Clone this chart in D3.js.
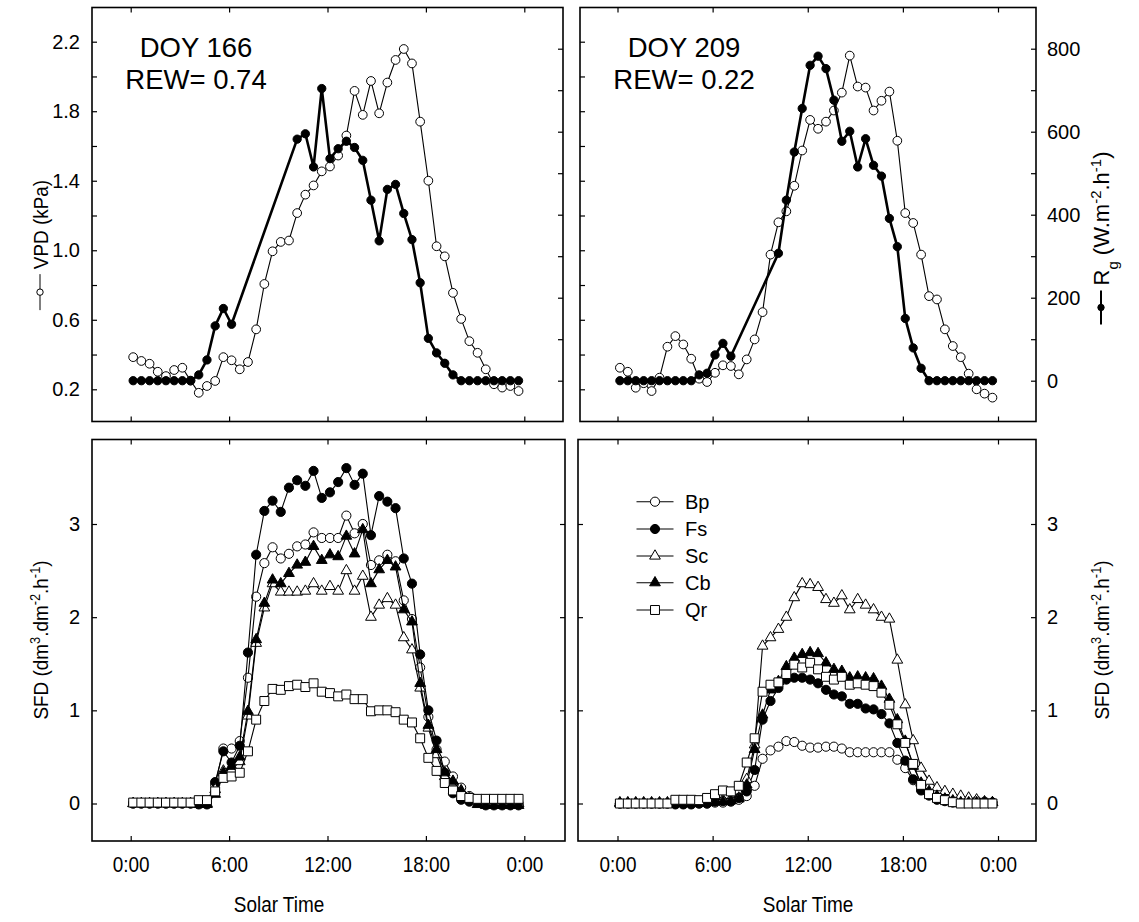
<!DOCTYPE html>
<html><head><meta charset="utf-8">
<script src="https://cdn.jsdelivr.net/npm/d3@7/dist/d3.min.js"></script>
<style>body{margin:0;background:#fff}</style>
</head><body>
<svg id="c" width="1139" height="922" xmlns="http://www.w3.org/2000/svg"></svg>
<script>
// ---------- data ----------
const times = [0.15,0.65,1.15,1.65,2.15,2.65,3.15,3.65,4.15,4.65,5.15,5.65,6.15,6.65,7.15,7.65,
  8.15,8.65,9.15,9.65,10.15,10.65,11.15,11.65,12.15,12.65,13.15,13.65,14.15,14.65,15.15,15.65,
  16.15,16.65,17.15,17.65,18.15,18.65,19.15,19.65,20.15,20.65,21.15,21.65,22.15,22.65,23.15,23.65];
const xTicks = [0, 6, 12, 18, 24];
const xTickLabels = ["0:00", "6:00", "12:00", "18:00", "0:00"];
const vpdTicks = [0.2,0.4,0.6,0.8,1.0,1.2,1.4,1.6,1.8,2.0,2.2];
const vpdLabelled = [0.2,0.6,1.0,1.4,1.8,2.2];
const rgTicks = [0,100,200,300,400,500,600,700,800];
const rgLabelled = [0,200,400,600,800];
const sfdTicks = [0,1,2,3];

const panelTitles = [["DOY 166", "REW= 0.74"], ["DOY 209", "REW= 0.22"]];

// DOY 166
const vpd166 = [0.385,0.363,0.347,0.301,0.276,0.311,0.324,0.25,0.18,0.219,0.248,0.385,0.367,0.315,0.357,0.545,
  0.806,0.994,1.048,1.056,1.214,1.32,1.373,1.454,1.482,1.545,1.66,1.917,1.779,1.974,1.788,1.965,
  2.095,2.158,2.075,1.74,1.40,1.023,0.965,0.755,0.605,0.477,0.41,0.315,0.229,0.21,0.219,0.19];
const rg166 = [0,0,0,0,0,0,0,0,14,50,132,174,136,null,null,null,null,null,null,null,582,595,515,704,
  535,559,577,562,531,435,337,461,473,403,340,236,102,67,42,14,0,0,0,0,0,0,0,0];
// DOY 209
const vpd209 = [0.324,0.301,0.209,0.235,0.19,0.267,0.445,0.506,0.458,0.376,0.261,0.242,0.295,0.338,0.334,0.286,
  0.372,0.487,0.644,0.975,1.161,1.224,1.371,1.574,1.75,1.699,1.74,1.804,1.907,2.12,1.942,1.936,
  1.804,1.86,1.913,1.63,1.214,1.157,0.975,0.736,0.717,0.545,0.449,0.385,0.29,0.2,0.175,0.152];
const rg209 = [0,0,0,0,0,0,0,0,0,0,14,18,62,90,59,null,null,null,null,null,307,435,551,656,
  760,782,752,676,577,601,515,583,519,493,391,323,150,79,30,0,0,0,0,0,0,0,0,0];

// SFD DOY 166
const bp166 = [0,0,0,0,0,0,0,0,0.01,0.02,0.2,0.59,0.59,0.67,1.35,2.22,2.58,2.75,2.63,2.68,2.76,2.78,2.91,2.85,
  2.85,2.85,3.09,2.9,3.0,2.56,2.61,2.67,2.6,2.18,1.98,1.46,0.93,0.58,0.45,0.29,0.17,0.08,0.04,0.02,0.01,0,0,0];
const fs166 = [0,0,0,0,0,0,0,0,-0.01,-0.01,0.23,0.56,0.44,0.62,1.62,2.67,3.14,3.25,3.13,3.39,3.47,3.41,3.57,3.28,
  3.34,3.45,3.6,3.42,3.54,2.88,3.3,3.24,3.17,2.63,2.36,1.6,1.0,0.675,0.33,0.11,0.04,0.02,0.01,-0.02,-0.02,-0.02,-0.02,-0.02];
const sc166 = [0,0,0,0,0,0,0,0,0,0,0.15,0.35,0.36,0.45,0.94,1.72,2.1,2.36,2.27,2.27,2.27,2.28,2.36,2.28,
  2.33,2.28,2.5,2.28,2.44,2.0,2.13,2.2,2.13,1.78,1.65,1.24,0.81,0.525,0.29,0.22,0.14,0.06,0.02,0,0,0,0,0];
const cb166 = [0,0,0,0,0,0,0,0,-0.01,-0.01,0.1,0.33,0.4,0.5,0.99,1.76,2.15,2.4,2.36,2.47,2.56,2.59,2.76,2.61,
  2.67,2.65,2.87,2.68,2.94,2.36,2.51,2.61,2.54,2.08,1.95,1.29,0.84,0.58,0.33,0.24,0.13,0.04,-0.01,-0.02,-0.02,-0.02,-0.02,-0.02];
const qr166 = [0.01,0.01,0.01,0.01,0.01,0.01,0.01,0.01,0.036,0.036,0.13,0.275,0.29,0.33,0.56,0.9,1.1,1.23,1.22,1.26,1.275,1.25,1.29,1.2,
  1.185,1.15,1.17,1.12,1.12,0.99,1.0,1.0,0.98,0.9,0.87,0.7,0.49,0.35,0.22,0.14,0.08,0.06,0.05,0.05,0.05,0.05,0.05,0.05];
// SFD DOY 209
const bp209 = [0,0,0,0,0,0,0,0,0,0,0,0,0.01,0.01,0.02,0.04,0.08,0.19,0.48,0.57,0.61,0.67,0.66,0.62,
  0.6,0.6,0.61,0.61,0.59,0.55,0.55,0.55,0.55,0.55,0.55,0.47,0.38,0.25,0.15,0.1,0.07,0.05,0.04,0.04,0.03,0.03,0.02,0.01];
const fs209 = [0,0,0,0,0,0,0,-0.01,-0.01,-0.01,0,0,0.02,0.025,0.025,0.06,0.13,0.36,0.9,1.1,1.24,1.33,1.35,1.35,
  1.33,1.29,1.22,1.17,1.15,1.07,1.07,1.02,1.01,0.96,0.86,0.65,0.46,0.26,0.14,0.085,0.04,0.025,0.01,0.01,0.01,0.01,0.01,0.01];
const sc209 = [0.01,0.01,0.01,0.01,0.01,0.01,0.01,0.01,0.01,0.01,0.01,0.02,0.03,0.04,0.05,0.06,0.26,0.63,1.69,1.78,1.87,2.0,2.21,2.36,
  2.35,2.32,2.19,2.15,2.23,2.08,2.19,2.13,2.08,2.0,1.98,1.54,1.06,0.675,0.38,0.24,0.17,0.13,0.1,0.08,0.06,0.04,0.02,0.01];
const cb209 = [0,0,0,0,0,0,0,0,0,0,0,0.01,0.02,0.02,0.03,0.05,0.2,0.58,0.95,1.22,1.31,1.47,1.56,1.6,
  1.62,1.61,1.51,1.44,1.42,1.35,1.36,1.35,1.34,1.26,1.12,0.9,0.67,0.4,0.22,0.13,0.08,0.05,0.03,0.01,0.01,0.01,0.01,0.01];
const qr209 = [0,0,0,0,0,0,0,0.04,0.04,0.04,0.036,0.06,0.1,0.14,0.13,0.19,0.44,0.7,1.2,1.275,1.3,1.39,1.49,1.46,
  1.51,1.44,1.36,1.33,1.36,1.275,1.29,1.275,1.26,1.19,1.06,0.85,0.65,0.425,0.2,0.1,0.06,0.036,0.014,0,0,0,0,0];

const species = ["Bp", "Fs", "Sc", "Cb", "Qr"];
const speciesStyle = {
  Bp: {type: d3.symbolCircle, size: 66, fill: "#fff"},
  Fs: {type: d3.symbolCircle, size: 66, fill: "#000"},
  Sc: {type: d3.symbolTriangle, size: 50, fill: "#fff"},
  Cb: {type: d3.symbolTriangle, size: 50, fill: "#000"},
  Qr: {type: d3.symbolSquare, size: 80, fill: "#fff"}
};
const sfd166 = {Bp: bp166, Fs: fs166, Sc: sc166, Cb: cb166, Qr: qr166};
const sfd209 = {Bp: bp209, Fs: fs209, Sc: sc209, Cb: cb209, Qr: qr209};

// ---------- layout ----------
const svg = d3.select("#c");
const FONT = "'Liberation Sans', Arial, sans-serif";

const panels = {
  TL: {x0: 92, x1: 563, y0: 7.5, y1: 421.5, tx: [130.7, 524.3]},
  TR: {x0: 580, x1: 1036, y0: 7.5, y1: 421.5, tx: [617.5, 998]},
  BL: {x0: 92, x1: 565, y0: 439.5, y1: 841, tx: [130.7, 524.3]},
  BR: {x0: 578, x1: 1036, y0: 439.5, y1: 841, tx: [617.5, 998]}
};
const yVPD = d3.scaleLinear().domain([0.2, 2.2]).range([389.3, 41.7]);
const yRg = d3.scaleLinear().domain([0, 800]).range([380.7, 48.7]);
const ySFD = d3.scaleLinear().domain([0, 3]).range([803.5, 524]);

function fmtVPD(d){ return vpdLabelled.some(v => Math.abs(v-d) < 1e-6) ? d.toFixed(1) : ""; }
function fmtRg(d){ return rgLabelled.includes(d) ? String(d) : ""; }

function styleAxis(g, size, narrow){
  g.select(".domain").remove();
  g.selectAll(".tick line").attr("stroke", "#000").attr("stroke-width", 1.2);
  const t = g.selectAll(".tick text").attr("fill", "#000").attr("font-family", FONT).attr("font-size", size);
  if (narrow) t.each(function(){
    const w = this.getComputedTextLength();
    if (w > 0) d3.select(this).attr("textLength", w * narrow).attr("lengthAdjust", "spacingAndGlyphs");
  });
}

function drawPanel(p, xs, opts){
  const g = svg.append("g");
  const gb = g.append("g").attr("transform", `translate(0,${p.y1})`)
    .call(d3.axisBottom(xs).tickValues(xTicks).tickSizeInner(-5).tickSizeOuter(0).tickPadding(15)
      .tickFormat((d,i) => opts.xLabels ? xTickLabels[i] : ""));
  styleAxis(gb, 22, 0.86);
  const gt = g.append("g").attr("transform", `translate(0,${p.y0})`)
    .call(d3.axisTop(xs).tickValues(xTicks).tickSizeInner(-5).tickSizeOuter(0).tickFormat(""));
  styleAxis(gt, 20);
  const gl = g.append("g").attr("transform", `translate(${p.x0},0)`)
    .call(d3.axisLeft(opts.yl).tickValues(opts.ylTicks).tickSizeInner(-5).tickSizeOuter(0).tickPadding(12)
      .tickFormat(opts.ylFmt));
  styleAxis(gl, 20);
  const gr = g.append("g").attr("transform", `translate(${p.x1},0)`)
    .call(d3.axisRight(opts.yr).tickValues(opts.yrTicks).tickSizeInner(-5).tickSizeOuter(0).tickPadding(11)
      .tickFormat(opts.yrFmt));
  styleAxis(gr, 20);
  g.append("rect").attr("x", p.x0).attr("y", p.y0).attr("width", p.x1-p.x0).attr("height", p.y1-p.y0)
    .attr("fill", "none").attr("stroke", "#000").attr("stroke-width", 1.6);
  return g;
}

function series(g, xs, ys, vals, st, lw){
  const pts = times.map((t,i) => ({t, v: vals[i]})).filter(d => d.v !== null);
  g.append("path").datum(pts)
    .attr("d", d3.line().x(d => xs(d.t)).y(d => ys(d.v)))
    .attr("fill", "none").attr("stroke", "#000").attr("stroke-width", lw).attr("stroke-linejoin", "round");
  g.selectAll(null).data(pts).enter().append("path")
    .attr("transform", d => `translate(${xs(d.t)},${ys(d.v)})`)
    .attr("d", d3.symbol().type(st.type).size(st.size))
    .attr("fill", st.fill).attr("stroke", "#000").attr("stroke-width", 1);
}

const xL = d3.scaleLinear().domain([0, 24]).range(panels.TL.tx);
const xR = d3.scaleLinear().domain([0, 24]).range(panels.TR.tx);

// top panels
const vpdStyle = {type: d3.symbolCircle, size: 60, fill: "#fff"};
const rgStyle = {type: d3.symbolCircle, size: 54, fill: "#000"};
const topData = [[panels.TL, xL, vpd166, rg166, 0], [panels.TR, xR, vpd209, rg209, 1]];
topData.forEach(([p, xs, vpd, rg, k]) => {
  const g = drawPanel(p, xs, {
    xLabels: false,
    yl: yVPD, ylTicks: vpdTicks, ylFmt: k === 0 ? fmtVPD : () => "",
    yr: yRg, yrTicks: rgTicks, yrFmt: k === 1 ? fmtRg : () => ""
  });
  series(g, xs, yVPD, vpd, vpdStyle, 1.1);
  series(g, xs, yRg, rg, rgStyle, 2.6);
  const cx = k === 0 ? 196 : 684;
  g.append("text").attr("x", cx).attr("y", 56.5).attr("text-anchor", "middle")
    .attr("font-family", FONT).attr("font-size", 27.5).text(panelTitles[k][0]);
  g.append("text").attr("x", cx).attr("y", 88.5).attr("text-anchor", "middle")
    .attr("font-family", FONT).attr("font-size", 27.5).text(panelTitles[k][1]);
});

// bottom panels
const xTitleX = [279, 808];
const botData = [[panels.BL, d3.scaleLinear().domain([0,24]).range(panels.BL.tx), sfd166, 0],
                 [panels.BR, d3.scaleLinear().domain([0,24]).range(panels.BR.tx), sfd209, 1]];
botData.forEach(([p, xs, data, k]) => {
  const g = drawPanel(p, xs, {
    xLabels: true,
    yl: ySFD, ylTicks: sfdTicks, ylFmt: k === 0 ? d3.format("d") : () => "",
    yr: ySFD, yrTicks: sfdTicks, yrFmt: k === 1 ? d3.format("d") : () => ""
  });
  species.forEach(s => series(g, xs, ySFD, data[s], speciesStyle[s], 1.1));
  const t = g.append("text").attr("x", xTitleX[k]).attr("y", 912).attr("text-anchor", "middle")
    .attr("font-family", FONT).attr("font-size", 22).text("Solar Time");
  t.attr("textLength", t.node().getComputedTextLength() * 0.86).attr("lengthAdjust", "spacingAndGlyphs");
});

// legend
const leg = svg.append("g");
species.forEach((s, i) => {
  const y = [501.7, 529, 556, 582.7, 610][i];
  leg.append("line").attr("x1", 636.5).attr("x2", 673.5).attr("y1", y).attr("y2", y)
    .attr("stroke", "#000").attr("stroke-width", 1.1);
  leg.append("path").attr("transform", `translate(655,${y})`)
    .attr("d", d3.symbol().type(speciesStyle[s].type).size(speciesStyle[s].size))
    .attr("fill", speciesStyle[s].fill).attr("stroke", "#000");
  leg.append("text").attr("x", 685).attr("y", y).attr("dy", "0.36em")
    .attr("font-family", FONT).attr("font-size", 20).text(s);
});

// y titles
function yTitle(x, y, parts, sym, fs, symLen, squeeze){
  const g = svg.append("g").attr("transform", `translate(${x},${y}) rotate(-90)`);
  const t = g.append("text").attr("font-family", FONT).attr("font-size", fs)
    .attr("text-anchor", "start").attr("dy", "0.36em");
  parts.forEach(pt => {
    const ts = t.append("tspan").text(pt.s);
    if (pt.k === "sup") ts.attr("font-size", fs*0.68).attr("baseline-shift", "super");
    if (pt.k === "sub") ts.attr("font-size", fs*0.68).attr("baseline-shift", "sub");
  });
  const w0 = t.node().getComputedTextLength();
  const w = w0 * squeeze;
  t.attr("textLength", w).attr("lengthAdjust", "spacingAndGlyphs");
  const sl = sym ? symLen : 0, gap = sym ? 5 : 0;
  const start = -(w + sl + gap)/2;
  t.attr("x", start + sl + gap);
  if (sym){
    g.append("line").attr("x1", start).attr("x2", start + sl).attr("y1", 0).attr("y2", 0)
      .attr("stroke", "#000").attr("stroke-width", sym === "filled" ? 2 : 1);
    g.append("circle").attr("cx", start + sl/2).attr("cy", 0).attr("r", 3.2)
      .attr("fill", sym === "filled" ? "#000" : "#fff").attr("stroke", "#000");
  }
}
const sfdParts = [{s: "SFD (dm"}, {s: "3", k: "sup"}, {s: ".dm"}, {s: "-2", k: "sup"}, {s: ".h"}, {s: "-1", k: "sup"}, {s: ")"}];
yTitle(40, 245, [{s: "VPD (kPa)"}], "open", 21, 36, 0.9);
yTitle(1101, 238, [{s: "R"}, {s: "g", k: "sub"}, {s: " (W.m"}, {s: "-2", k: "sup"}, {s: ".h"}, {s: "-1", k: "sup"}, {s: ")"}], "filled", 22, 34, 1.0);
yTitle(40, 640, sfdParts, null, 21, 0, 0.9);
yTitle(1101, 640, sfdParts, null, 21, 0, 0.9);
</script>
</body></html>
